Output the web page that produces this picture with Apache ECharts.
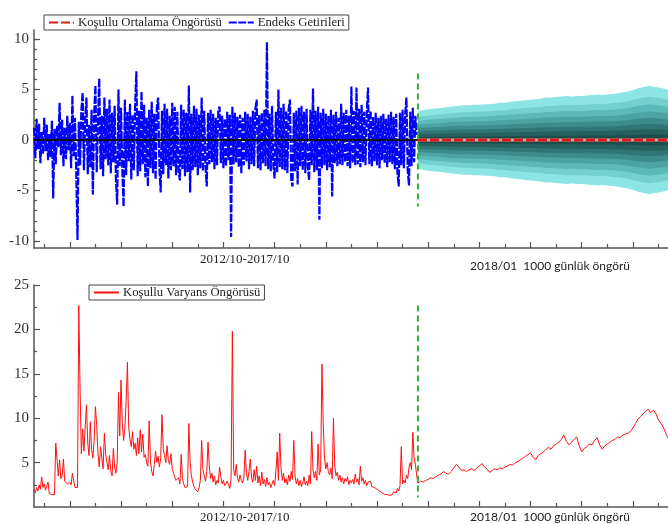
<!DOCTYPE html>
<html><head><meta charset="utf-8">
<script src="https://cdn.jsdelivr.net/npm/echarts@6/dist/echarts.min.js"></script>
<style>html,body{margin:0;padding:0;background:#fff}#c{width:668px;height:524px}</style>
</head><body><div id="c"></div><script>
// ---- data ----
const histStep = 5;          // observations between history samples
const forecastStart = 1500;  // observation index where the forecast begins
const forecastStep = 10;
const fanStep = 20;
const forecastEnd = 2500;
const axisMaxObs = 2477;     // the picture is cropped slightly before the forecast end

const historyLabel = '2012/10-2017/10';
const forecastLabel = '2018/01  1000 günlük öngörü';

const histReturns = [
1.2,-1.8,2.1,-0.9,1.6,-2.3,0.8,-1.4,2.2,-1.1,1.5,-2.0,0.6,-1.7,1.9,-5.8,1.1,-2.4,1.4,-0.7,
3.7,-1.5,2.0,-2.6,1.2,-1.9,2.4,-1.0,1.7,-2.8,4.4,-1.6,2.2,-3.1,-9.9,1.8,-2.5,2.9,4.7,-3.0,
2.1,4.2,-3.4,1.5,-2.7,3.0,-5.4,2.6,5.4,-3.2,1.8,6.1,-2.9,2.4,-3.6,4.2,-1.9,3.1,-2.5,4.0,
-3.3,2.7,-2.2,3.4,-3.8,-6.4,5.0,-2.6,3.2,-2.9,-6.6,4.0,-3.5,2.8,-2.1,3.6,-3.9,2.5,-3.0,3.3,
6.8,-3.6,2.9,-3.1,4.8,-2.4,3.5,-3.7,2.2,-4.6,3.0,-2.8,3.8,-3.3,2.6,-3.9,3.2,4.2,-2.7,-5.2,
2.9,-3.4,3.6,-2.5,3.1,-3.8,2.4,-3.0,3.7,-2.6,3.3,-3.5,2.8,-3.1,-4.0,3.5,-2.9,3.0,-3.6,2.7,
-3.2,5.4,-5.2,2.6,-3.0,3.4,-2.7,3.1,-3.5,2.5,-2.8,4.2,-3.1,2.9,-2.6,-4.6,2.7,-2.4,3.0,-2.2,
2.6,-2.9,2.2,-2.5,3.0,3.3,-2.3,2.4,-2.8,2.1,-2.6,2.8,-2.0,2.5,-9.6,3.3,-2.4,2.7,-2.2,2.3,
-2.7,2.5,-3.3,2.2,-2.5,2.8,-2.1,2.6,-2.9,2.3,-2.4,2.9,-2.6,3.1,4.0,-2.8,2.5,-3.0,2.7,-2.3,
3.0,-2.6,9.7,-2.9,2.6,-3.1,3.4,-2.5,-3.8,2.8,-3.2,5.0,-2.7,3.2,-2.9,3.6,-3.0,2.9,-3.3,3.1,
4.0,-4.0,-4.6,2.7,-3.1,2.9,-4.4,3.2,-2.6,3.4,-3.0,2.8,-3.3,3.1,-2.7,-4.0,3.0,-2.5,5.1,-3.2,
2.9,-3.0,3.3,-7.9,2.7,-2.8,3.1,-2.5,2.6,-3.0,2.4,-2.7,3.0,-5.6,2.5,-2.3,2.8,-2.6,2.2,-2.4,
3.6,-2.5,2.7,-2.2,3.0,-2.6,2.4,-2.8,5.3,-2.3,2.9,-2.5,5.2,-2.4,3.1,-2.7,3.5,-2.2,2.8,-2.5,
2.6,5.2,-2.4,2.9,-2.6,2.3,-2.1,2.7,-2.5,2.2,-2.8,2.4,-2.0,2.6,-2.3,2.1,-2.7,2.5,-2.2,2.8,
-2.4,2.3,-2.9,2.6,-3.2,-4.6,2.7,-2.5,3.0,-2.8,2.5,4.2,-3.0,-4.5,2.8,-2.6,3.2,-2.2,2.4,0.5
];

const histVariance = [
2.0,1.6,2.2,1.8,2.5,2.0,3.4,2.2,2.6,1.9,
2.0,2.8,1.5,1.6,1.4,1.3,1.4,7.2,5.3,3.5,
5.3,3.2,3.5,5.4,2.9,2.7,2.6,2.4,2.8,2.5,
3.8,3.6,2.2,2.0,2.2,22.7,13.3,6.0,8.8,6.3,
9.0,11.5,7.2,5.8,9.6,6.5,5.5,7.5,11.3,9.2,
6.0,4.5,6.8,5.5,4.3,8.3,6.0,5.0,4.2,5.8,
4.0,3.5,6.6,4.5,3.8,5.0,12.9,8.0,14.3,9.5,
7.5,8.8,12.0,16.3,9.0,7.6,6.8,8.5,6.5,7.2,
5.8,7.8,6.0,8.7,6.2,8.2,5.6,5.9,5.0,4.6,
9.7,5.2,4.0,3.5,4.8,6.3,5.0,5.7,4.5,5.5,
10.4,6.5,5.8,5.0,6.9,5.2,4.8,6.0,4.3,3.8,
3.4,3.0,2.8,3.3,2.6,5.9,3.2,2.6,2.2,2.0,
2.3,9.4,5.0,3.5,2.8,2.3,2.0,1.8,1.7,2.2,
3.0,7.5,4.2,3.5,2.9,4.0,7.3,4.5,3.2,3.8,
2.8,3.5,2.5,3.0,2.7,4.5,3.4,2.6,3.0,2.4,
2.2,2.9,2.5,2.1,3.2,19.8,4.2,3.5,4.8,3.3,
2.8,3.6,3.0,2.7,3.4,6.4,3.8,3.0,4.0,5.4,
3.3,2.8,4.2,3.0,4.6,2.7,3.5,2.4,3.9,2.6,
3.1,2.3,3.3,2.5,2.8,2.2,2.6,3.0,2.4,4.0,
6.2,3.0,8.3,4.4,3.0,3.8,2.7,3.2,2.5,3.6,
2.9,4.0,3.1,7.5,3.5,2.6,3.2,2.4,3.0,2.3,
2.7,3.4,2.5,2.9,2.4,3.6,2.6,8.5,4.2,3.3,
4.0,3.0,7.1,3.6,4.2,16.1,9.4,5.5,4.3,5.0,
4.0,3.6,4.4,3.2,10.0,4.6,3.5,3.9,3.0,3.6,
2.8,3.3,2.6,3.2,2.9,3.4,2.5,3.0,2.7,3.1,
2.6,3.7,2.8,3.2,2.5,4.6,2.9,3.3,2.6,3.0,
2.4,2.8,2.6,2.9,2.3,2.5,2.2,2.4,2.0,2.1,
1.8,1.9,1.6,1.5,1.4,1.3,1.4,1.2,1.3,1.5,
1.4,1.7,1.9,1.6,2.1,1.8,2.4,6.8,2.6,3.0,
2.7,3.6,3.2,4.4,5.0,4.2,8.4,5.5,4.8,3.6
];

const forecastVariance = [
2.7,2.9,2.8,3.0,3.1,3.3,3.2,3.4,3.6,3.7,
4.0,3.8,3.7,4.0,4.4,4.8,4.5,4.1,4.2,4.0,
4.2,4.3,4.1,4.4,4.6,4.9,4.5,4.3,3.9,4.1,
4.3,4.2,4.4,4.3,4.5,4.6,4.8,4.7,5.0,5.1,
5.3,5.5,5.7,5.9,6.1,5.6,5.3,5.8,6.0,6.2,
6.5,6.7,6.5,6.9,7.1,7.3,7.6,8.1,7.4,7.0,
7.3,7.6,7.9,6.9,6.2,6.6,6.8,7.1,7.0,7.5,
7.8,7.0,6.5,6.9,7.1,7.3,7.5,7.6,7.9,7.8,
8.1,8.2,8.3,8.5,8.9,9.4,9.9,10.2,10.5,10.8,
11.0,10.6,10.9,10.5,9.8,9.4,8.9,8.2,7.6,7.2,
6.9
];

// outer half-width of the forecast fan (return units)
const fanHalfWidth = [
2.85,2.95,3.05,3.1,3.15,3.2,3.3,3.35,3.4,3.45,
3.45,3.5,3.5,3.55,3.55,3.6,3.7,3.7,3.8,3.85,
3.9,3.95,4.0,4.05,4.1,4.2,4.2,4.25,4.3,4.35,
4.3,4.35,4.35,4.4,4.45,4.5,4.45,4.5,4.55,4.6,
4.7,4.8,4.95,5.1,5.25,5.35,5.3,5.2,5.1,4.95,
4.85
];
const fanLevels = [1.0, 0.8, 0.66, 0.53, 0.41, 0.3, 0.2, 0.1];
const fanColors = ['#8de4e4','#74cfcf','#5db9b9','#4ba3a3','#3c8c8c','#307676','#266161','#1c4d4d'];

const topTicks = [-10,-5,0,5,10];
const topMinorTicks = [-10,-9,-8,-7,-6,-5,-4,-3,-2,-1,0,1,2,3,4,5,6,7,8,9,10];
const bottomTicks = [5,10,15,20,25];
const bottomMinorTicks = [2.5,7.5,12.5,17.5,22.5];
const xMajorTicks = [140,340,540,740,940,1140,1340,1540,1740,1940,2140,2340];
const xMinorTicks = [40,240,440,640,840,1040,1240,1440,1640,1840,2040,2240,2440];

// ---- build ----
const serif = '"Liberation Serif","DejaVu Serif",serif';
const axisColor = '#555';

const retData = histReturns.map((v,i)=>[i*histStep, v]);
const varData = histVariance.map((v,i)=>[i*histStep, v])
  .concat(forecastVariance.map((v,i)=>[forecastStart + i*forecastStep, v]));

const series = [];
fanLevels.forEach((f,k)=>{
  [1,-1].forEach(sgn=>{
    series.push({
      type:'line', xAxisIndex:0, yAxisIndex:0, silent:true, symbol:'none',
      lineStyle:{width:0}, areaStyle:{color:fanColors[k], opacity:1},
      data: fanHalfWidth.map((h,j)=>[forecastStart + j*fanStep, sgn*f*h]),
      z:1
    });
  });
});
series.push({
  name:'Endeks Getirileri', type:'line', xAxisIndex:0, yAxisIndex:0, symbol:'none',
  lineStyle:{color:'#0000ff', width:2.2, type:[8,1.5]}, itemStyle:{color:'#0000ff'},
  data: retData, z:2
});
series.push({
  type:'line', xAxisIndex:0, yAxisIndex:0, symbol:'none', silent:true,
  lineStyle:{color:'#111', width:1.8}, data:[[0,0],[forecastStart,0]], z:3
});
series.push({
  type:'line', xAxisIndex:0, yAxisIndex:0, symbol:'none', silent:true,
  lineStyle:{color:'#b8b8b8', width:3}, data:[[forecastStart,0],[forecastEnd,0]], z:3
});
series.push({
  name:'Koşullu Ortalama Öngörüsü', type:'line', xAxisIndex:0, yAxisIndex:0, symbol:'none',
  lineStyle:{color:'#e01818', width:3, type:[9,3]}, itemStyle:{color:'#e01818'},
  data:[[forecastStart,0],[forecastEnd,0]], z:4
});
series.push({
  type:'line', xAxisIndex:0, yAxisIndex:0, symbol:'none', silent:true,
  lineStyle:{color:'#2fb52f', width:2, type:[6,4]}, data:[[forecastStart,6.6],[forecastStart,-6.6]], z:5
});
series.push({
  name:'Koşullu Varyans Öngörüsü', type:'line', xAxisIndex:2, yAxisIndex:2, symbol:'none',
  lineStyle:{color:'#ff1010', width:1}, itemStyle:{color:'#ff1010'},
  data: varData, z:2
});
series.push({
  type:'line', xAxisIndex:2, yAxisIndex:2, symbol:'none', silent:true,
  lineStyle:{color:'#2fb52f', width:2, type:[6,4]}, data:[[forecastStart,22.7],[forecastStart,1.1]], z:5
});

function xAxisPair(gi){
  return [
    {type:'value', gridIndex:gi, min:0, max:axisMaxObs, position:'bottom',
     axisLine:{show:true, onZero:false, lineStyle:{color:axisColor, width:1.5}},
     axisTick:{show:true, inside:true, length:6, customValues:xMajorTicks, lineStyle:{color:axisColor, width:1.2}},
     axisLabel:{show:false}, splitLine:{show:false}},
    {type:'value', gridIndex:gi, min:0, max:axisMaxObs, position:'bottom',
     axisLine:{show:false, onZero:false},
     axisTick:{show:true, inside:true, length:4, customValues:xMinorTicks, lineStyle:{color:axisColor, width:1.2}},
     axisLabel:{show:false}, splitLine:{show:false}}
  ];
}
function yAxisPair(gi, min, max, major, minor, labels){
  return [
    {type:'value', gridIndex:gi, min:min, max:max, position:'left',
     axisLine:{show:true, onZero:false, lineStyle:{color:axisColor, width:1.5}},
     axisTick:{show:true, inside:true, length:6, customValues:major, lineStyle:{color:axisColor, width:1.2}},
     axisLabel:{show:true, customValues:labels, fontFamily:serif, fontSize:15, color:'#333', margin:5},
     splitLine:{show:false}},
    {type:'value', gridIndex:gi, min:min, max:max, position:'left',
     axisLine:{show:false, onZero:false},
     axisTick:{show:true, inside:true, length:3, customValues:minor, lineStyle:{color:axisColor, width:1.2}},
     axisLabel:{show:false}, splitLine:{show:false}}
  ];
}

const legendCommon = {
  orient:'horizontal', itemWidth:25, itemHeight:8, itemGap:6,
  itemStyle:{opacity:0},
  borderColor:'#444', borderWidth:1, padding:[1,4], backgroundColor:'#fff',
  textStyle:{fontFamily:serif, fontSize:12.7, color:'#222', padding:[0,0,0,-1]}
};

const option = {
  animation:false,
  backgroundColor:'#fff',
  grid:[
    {left:34, top:30, right:0, height:218},
    {left:34, top:285, right:0, height:222}
  ],
  xAxis: xAxisPair(0).concat(xAxisPair(1)),
  yAxis: yAxisPair(0,-10.7,10.9,topTicks,topMinorTicks,topTicks)
        .concat(yAxisPair(1,0,25,bottomTicks,bottomMinorTicks,bottomTicks)),
  legend:[
    Object.assign({data:['Koşullu Ortalama Öngörüsü','Endeks Getirileri'], left:44, top:15}, legendCommon),
    Object.assign({data:['Koşullu Varyans Öngörüsü'], left:89, top:285}, legendCommon)
  ],
  graphic:[
    {type:'text', left:200, top:253, style:{text:historyLabel, font:'13px '+serif, fill:'#222'}},
    {type:'text', left:470, top:260, style:{text:forecastLabel, font:'12px Lato,"Liberation Sans",sans-serif', fill:'#222'}},
    {type:'text', left:200, top:511, style:{text:historyLabel, font:'13px '+serif, fill:'#222'}},
    {type:'text', left:470, top:511, style:{text:forecastLabel, font:'12px Lato,"Liberation Sans",sans-serif', fill:'#222'}}
  ],
  series: series
};
const chart = echarts.init(document.getElementById('c'), null, {renderer:'canvas'});
chart.setOption(option);
</script></body></html>
